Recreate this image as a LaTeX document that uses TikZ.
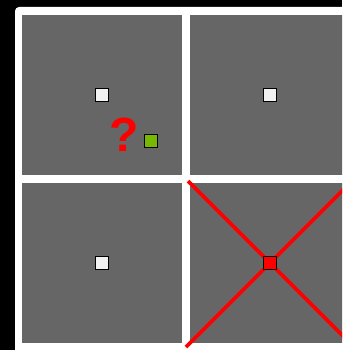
\documentclass[tikz,border=0pt]{standalone}
\usepackage{fontspec}
\newfontfamily\qfont{Liberation Sans}
\usetikzlibrary{calc}
\definecolor{cellgray}{RGB}{102,102,102}
\definecolor{probe}{RGB}{118,185,0}
\definecolor{mark}{RGB}{242,242,242}

\begin{document}
\begin{tikzpicture}[
  x=1pt, y=-1pt,
  cell/.style={fill=cellgray, draw=none, inner sep=0pt,
               minimum width=160pt, minimum height=160pt},
  dot/.style={draw=black, line width=1.4pt, fill=mark, inner sep=0pt,
              minimum size=12.5pt},
  xline/.style={draw=red, line width=3.6pt}
]
\useasboundingbox (0,0) rectangle (342,350);
\fill[black] (0,0) rectangle (342,350);

\begin{scope}
\clip (0,0) rectangle (342,350);
\fill[white, rounded corners=4pt] (15,7) rectangle (370,380);

% grid of cells
\node[cell] (c1) at (102,95) {};
\node[cell] (c2) at (270,95) {};
\node[cell] (c3) at (102,263) {};
\node[cell] (c4) at (270,263) {};

% blocked cell
\draw[xline] ($(c4)+(-82,-82)$) -- ($(c4)+(90,90)$);
\draw[xline] ($(c4)+(-84,84)$) -- ($(c4)+(90,-90)$);
\end{scope}

\node[dot] (m1) at (c1) {};
\node[dot] (m2) at (c2) {};
\node[dot] (m3) at (c3) {};
\node[dot, fill=red] (m4) at (c4) {};

\node[dot, fill=probe] (p) at (151,141) {};
\node[text=red, inner sep=0pt, font=\qfont\bfseries\fontsize{48}{48}\selectfont]
  (q) at (124.5,135) {?};

\end{tikzpicture}
\end{document}
